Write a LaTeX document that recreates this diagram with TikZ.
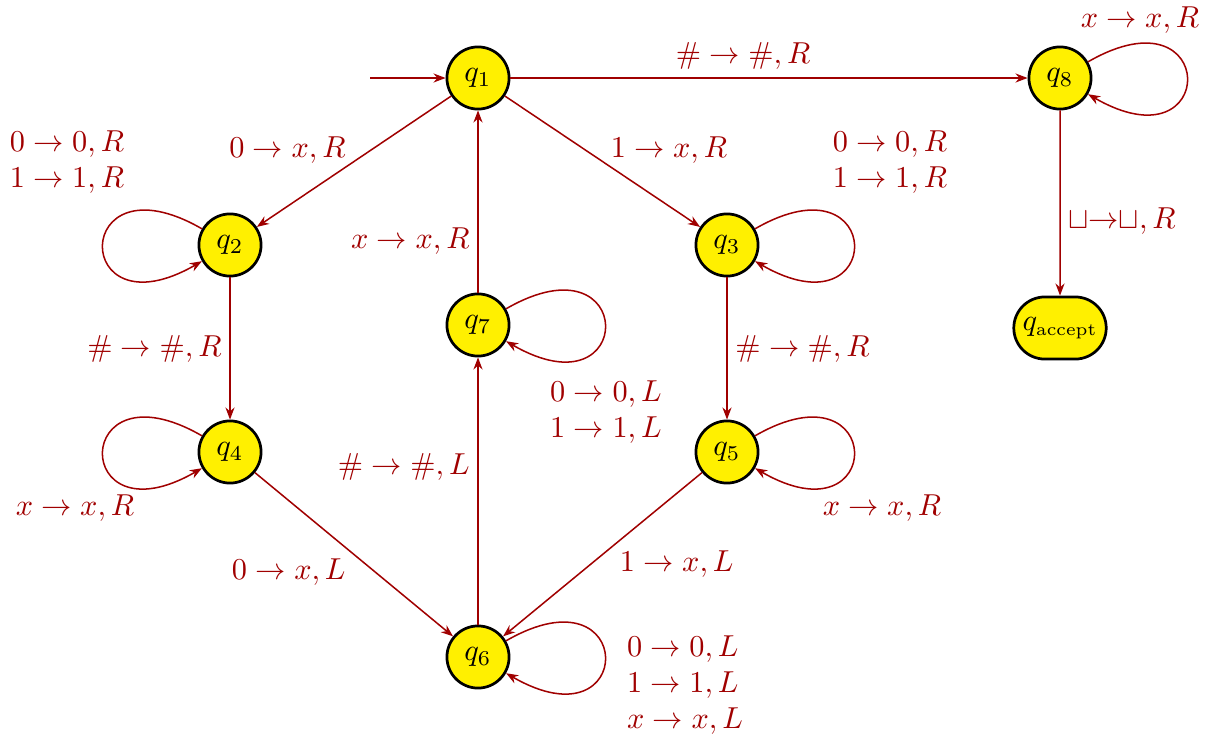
\documentclass[tikz,border=0pt]{standalone}
\usetikzlibrary{arrows.meta,shapes.misc}
\definecolor{ered}{RGB}{160,0,0}
\definecolor{nyel}{RGB}{255,240,0}
\begin{document}
\begin{tikzpicture}[x=0.33pt,y=0.33pt,
  st/.style={circle,draw=black,line width=0.9pt,fill=nyel,minimum size=20.5pt,inner sep=0pt},
  acc/.style={rounded rectangle,draw=black,line width=0.9pt,fill=nyel,minimum height=20.5pt,minimum width=30.5pt,inner xsep=0pt},
  tr/.style={draw=ered,line width=0.5pt,-{Stealth[length=4pt,width=3pt]}},
  lbl/.style={text=ered,align=left,inner sep=2.5pt},
]
\useasboundingbox (0,0) rectangle (1225,734);
% states
\node[st] (q1) at (478,656) {$q_1$};
\node[st] (q8) at (1060,656) {$q_8$};
\node[st] (q2) at (230,489) {$q_2$};
\node[st] (q3) at (727,489) {$q_3$};
\node[st] (q7) at (478,409) {$q_7$};
\node[st] (q4) at (230,282) {$q_4$};
\node[st] (q5) at (727,282) {$q_5$};
\node[st] (q6) at (478,77) {$q_6$};
\node[acc] (qa) at (1060,406) {$q_{\mbox{\fontsize{5.8}{6}\selectfont accept}}$};
\coordinate (s) at (370,656);
% transitions
\draw[tr] (s) -- (q1);
\draw[tr] (q1) -- node[lbl,above,pos=0.45] {$\# \rightarrow \#, R$} (q8);
\draw[tr] (q1) -- node[lbl,above left,yshift=-3.3pt] {$0 \rightarrow x, R$} (q2);
\draw[tr] (q1) -- node[lbl,above right,yshift=-3.3pt] {$1 \rightarrow x, R$} (q3);
\draw[tr] (q7) -- node[lbl,left,pos=0.28] {$x \rightarrow x, R$} (q1);
\draw[tr] (q2) -- node[lbl,left] {$\# \rightarrow \#, R$} (q4);
\draw[tr] (q3) -- node[lbl,right] {$\# \rightarrow \#, R$} (q5);
\draw[tr] (q4) -- node[lbl,below left,yshift=1.5pt] {$0 \rightarrow x, L$} (q6);
\draw[tr] (q5) -- node[lbl,below right,xshift=3pt,yshift=4pt] {$1 \rightarrow x, L$} (q6);
\draw[tr] (q6) -- node[lbl,left,pos=0.59] {$\# \rightarrow \#, L$} (q7);
\draw[tr] (q8) -- node[lbl,right,pos=0.6] {$\sqcup$$\rightarrow$$\sqcup$$, R$} (qa);
% loops
\draw[tr] (q2.150) .. controls +(150:152) and +(210:152) .. (q2.210);
\draw[tr] (q4.150) .. controls +(150:152) and +(210:152) .. (q4.210);
\draw[tr] (q3.30) .. controls +(30:152) and +(-30:152) .. (q3.-30);
\draw[tr] (q5.30) .. controls +(30:152) and +(-30:152) .. (q5.-30);
\draw[tr] (q7.30) .. controls +(30:152) and +(-30:152) .. (q7.-30);
\draw[tr] (q6.30) .. controls +(30:152) and +(-30:152) .. (q6.-30);
\draw[tr] (q8.30) .. controls +(30:152) and +(-30:152) .. (q8.-30);
% loop labels
\node[lbl] (l2) at (67,572) {$0 \rightarrow 0, R$\\$1 \rightarrow 1, R$};
\node[lbl] (l3) at (890,572) {$0 \rightarrow 0, R$\\$1 \rightarrow 1, R$};
\node[lbl] (l4) at (75,226) {$x \rightarrow x, R$};
\node[lbl] (l5) at (882,226) {$x \rightarrow x, R$};
\node[lbl] (l7) at (606,322) {$0 \rightarrow 0, L$\\$1 \rightarrow 1, L$};
\node[lbl] (l6) at (685,49) {$0 \rightarrow 0, L$\\$1 \rightarrow 1, L$\\$x \rightarrow x, L$};
\node[lbl] (l8) at (1140,714) {$x \rightarrow x, R$};
\end{tikzpicture}
\end{document}
